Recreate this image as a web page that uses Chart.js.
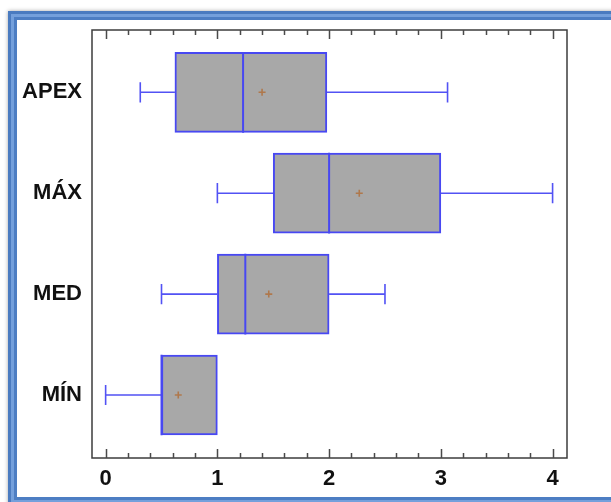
<!DOCTYPE html>
<html>
<head>
<meta charset="utf-8">
<script src="https://cdn.jsdelivr.net/npm/chart.js@4/dist/chart.umd.min.js"></script>
<style>
  html, body { margin: 0; padding: 0; background: #ffffff; }
  body { width: 611px; height: 502px; position: relative; overflow: hidden; }
  .frame {
    position: absolute; left: 8px; top: 11px; width: 700px; height: 489px;
    border: 3px solid #4a7bc0;
    box-shadow: 0 0 4px rgba(0, 0, 0, 0.35);
  }
  .frame > div { border: 3px solid #74a0dc; height: 100%; box-sizing: border-box; }
  .frame > div > div { border: 3px solid #4d7ec3; height: 100%; box-sizing: border-box; background: #fff; }
  #chart { position: absolute; left: 0; top: 0; }
</style>
</head>
<body>
<div class="frame"><div><div></div></div></div>
<canvas id="chart" width="611" height="502"></canvas>
<script>
// Five-number summaries plus means for each group
const categories  = ['APEX', 'MÁX', 'MED', 'MÍN'];
const whiskerMin  = [0.31, 1.0, 0.5, 0.0];
const q1          = [0.62, 1.5, 1.0, 0.5];
const medians     = [1.23, 2.0, 1.25, 0.5];
const q3          = [1.98, 3.0, 2.0, 1.0];
const whiskerMax  = [3.06, 4.0, 2.5, 1.0];
const means       = [1.40, 2.27, 1.46, 0.65];
const xTickValues = [0, 1, 2, 3, 4];

// Row positions on the vertical axis (1 = top row)
const positions = categories.map((_, i) => i + 1);

const BLUE = '#4848f2';
const CAP_HALF = 0.1;     // half height of whisker end caps, in row units
const MEDIAN_HALF = 0.4;  // half height of the median stroke, in row units
const GAP = { x: null, y: null };

const boxData = positions.map((p, i) => ({ x: [q1[i], q3[i]], y: p }));

const medianData = [];
positions.forEach((p, i) => {
  medianData.push({ x: medians[i], y: p - MEDIAN_HALF }, { x: medians[i], y: p + MEDIAN_HALF }, GAP);
});

const whiskerData = [];
positions.forEach((p, i) => {
  if (whiskerMin[i] < q1[i]) {
    whiskerData.push(
      { x: whiskerMin[i], y: p - CAP_HALF }, { x: whiskerMin[i], y: p + CAP_HALF }, GAP,
      { x: whiskerMin[i], y: p }, { x: q1[i], y: p }, GAP
    );
  }
  if (whiskerMax[i] > q3[i]) {
    whiskerData.push(
      { x: q3[i], y: p }, { x: whiskerMax[i], y: p }, GAP,
      { x: whiskerMax[i], y: p - CAP_HALF }, { x: whiskerMax[i], y: p + CAP_HALF }, GAP
    );
  }
});

const meanData = positions.map((p, i) => ({ x: means[i], y: p }));

// Closed frame with inward-pointing major/minor ticks on top and bottom
const frameTicks = {
  id: 'frameTicks',
  afterDraw(chart) {
    const { ctx, chartArea: a, scales: { x } } = chart;
    ctx.save();
    ctx.strokeStyle = '#3c3c3c';
    ctx.lineWidth = 1.5;
    ctx.strokeRect(a.left, a.top, a.right - a.left, a.bottom - a.top);
    ctx.lineWidth = 1.5;
    ctx.strokeStyle = '#4a4a4a';
    x.ticks.forEach(t => {
      const px = Math.round(x.getPixelForValue(t.value)) + 0.5;
      const major = Math.abs(t.value - Math.round(t.value)) < 1e-6;
      const len = major ? 9 : 5;
      ctx.beginPath();
      ctx.moveTo(px, a.bottom);
      ctx.lineTo(px, a.bottom - len);
      ctx.moveTo(px, a.top);
      ctx.lineTo(px, a.top + len);
      ctx.stroke();
    });
    ctx.restore();
  }
};

Chart.defaults.font.family = '"Liberation Sans", Arial, sans-serif';

new Chart(document.getElementById('chart'), {
  type: 'bar',
  data: {
    datasets: [
      {
        type: 'scatter',
        label: 'Media',
        data: meanData,
        pointStyle: 'cross',
        pointRadius: 3.5,
        borderColor: 'rgba(176, 112, 60, 0.85)',
        borderWidth: 1.6,
        order: 0
      },
      {
        type: 'line',
        label: 'Mediana',
        data: medianData,
        borderColor: BLUE,
        borderWidth: 2,
        pointRadius: 0,
        spanGaps: false,
        order: 1
      },
      {
        type: 'bar',
        label: 'Caja',
        data: boxData,
        backgroundColor: '#a8a8a8',
        borderColor: BLUE,
        borderWidth: 2,
        borderSkipped: false,
        barThickness: 80,
        order: 2
      },
      {
        type: 'line',
        label: 'Bigotes',
        data: whiskerData,
        borderColor: '#5252f4',
        borderWidth: 1.6,
        pointRadius: 0,
        spanGaps: false,
        order: 3
      }
    ]
  },
  options: {
    indexAxis: 'y',
    responsive: false,
    animation: false,
    events: [],
    layout: { padding: { left: 0, top: 30, right: 44, bottom: 0 } },
    plugins: { legend: { display: false }, tooltip: { enabled: false } },
    scales: {
      x: {
        type: 'linear',
        min: -0.122,
        max: 4.129,
        offset: false,
        grid: { display: false, drawTicks: false, offset: false },
        border: { display: false },
        ticks: {
          stepSize: 0.2,
          includeBounds: false,
          autoSkip: false,
          maxRotation: 0,
          padding: 8,
          color: '#111111',
          font: { size: 22, weight: 'bold' },
          callback: (v) => {
            const r = Math.round(v);
            return Math.abs(v - r) < 1e-6 && xTickValues.includes(r) ? String(r) : '';
          }
        },
        afterFit: (s) => { s.height = 44; }
      },
      y: {
        type: 'linear',
        reverse: true,
        min: 0.3825,
        max: 4.6245,
        offset: false,
        grid: { display: false, drawTicks: false, offset: false },
        border: { display: false },
        afterBuildTicks: (s) => { s.ticks = positions.map(v => ({ value: v })); },
        ticks: {
          padding: 10,
          color: '#111111',
          font: { size: 22, weight: 'bold' },
          callback: (v) => categories[Math.round(v) - 1] ?? ''
        },
        afterFit: (s) => { s.width = 92; }
      }
    }
  },
  plugins: [frameTicks]
});
</script>
</body>
</html>
